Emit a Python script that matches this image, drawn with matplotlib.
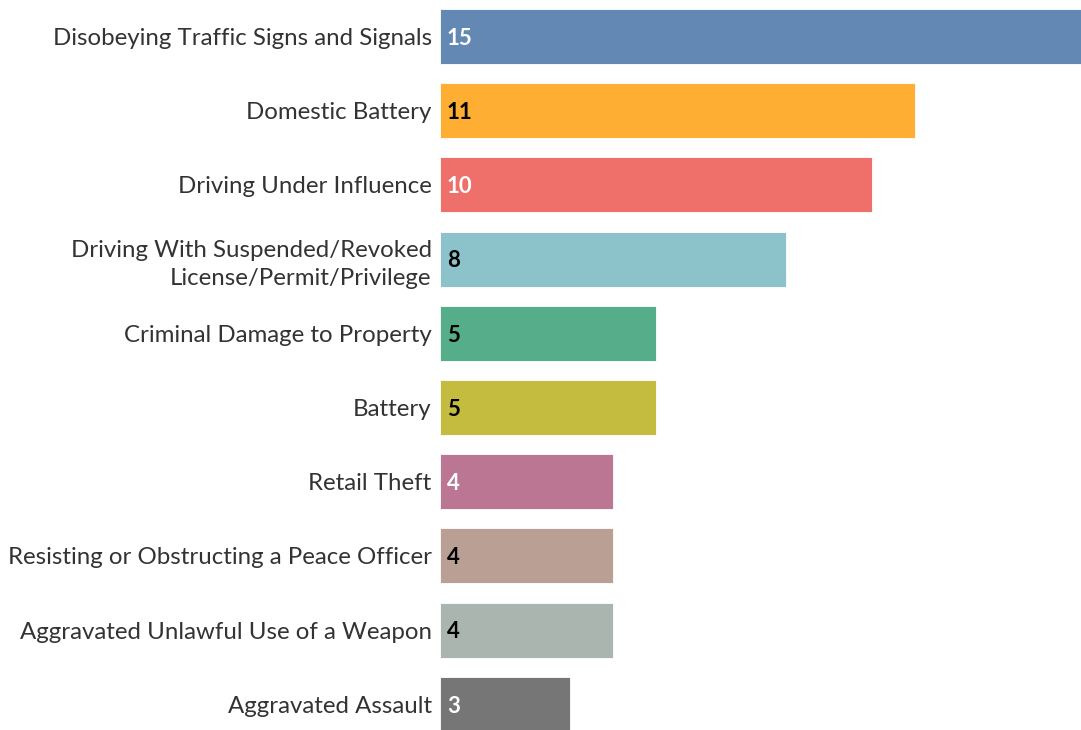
import matplotlib
matplotlib.use("Agg")
import matplotlib.pyplot as plt

categories = [
    "Disobeying Traffic Signs and Signals",
    "Domestic Battery",
    "Driving Under Influence",
    "Driving With Suspended/Revoked\nLicense/Permit/Privilege",
    "Criminal Damage to Property",
    "Battery",
    "Retail Theft",
    "Resisting or Obstructing a Peace Officer",
    "Aggravated Unlawful Use of a Weapon",
    "Aggravated Assault",
]
counts = [15, 11, 10, 8, 5, 5, 4, 4, 4, 3]
colors = ["#6388b4", "#ffae34", "#ef6f6a", "#8cc2ca", "#55ad89",
          "#c3bc3f", "#bb7693", "#baa094", "#a9b5ae", "#767676"]
label_colors = ["white", "black", "white", "black", "black",
                "black", "white", "black", "black", "white"]

plt.rcParams['font.family'] = ['Lato', 'DejaVu Sans']

fig = plt.figure(figsize=(10.81, 7.30), dpi=100)
ax = fig.add_axes([440 / 1081, 0, 641 / 1081, 1])

ypos = list(range(len(categories)))
ax.barh(ypos, counts, height=0.74, color=colors, edgecolor='white', linewidth=0.6)
ax.set_xlim(0, 14.84)
ax.set_ylim(9.346, -0.492)

ax.set_yticks(ypos)
ax.set_yticklabels(categories, fontsize=17.3, color='#333333', linespacing=1.38)
ax.tick_params(axis='y', length=0, pad=6)
ax.set_xticks([])
for s in ax.spines.values():
    s.set_visible(False)

for y, v, c in zip(ypos, counts, label_colors):
    ax.text(0.16, y + 0.025, str(v), va='center', ha='left', fontsize=16,
            fontweight='bold', color=c)

fig.savefig("out.png", dpi=100)
